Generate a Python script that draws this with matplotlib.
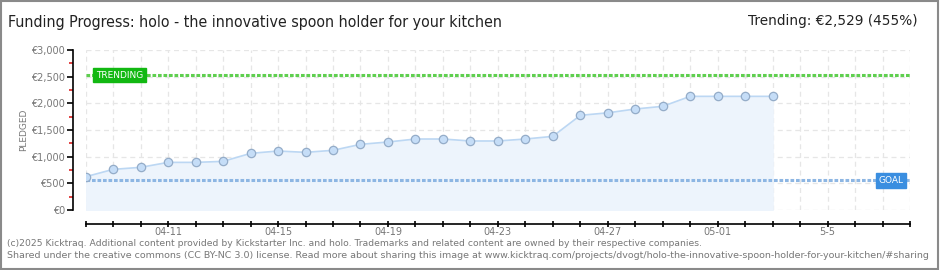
import numpy as np
import pandas as pd
import matplotlib
matplotlib.use('Agg')
from matplotlib import pyplot as plt
from matplotlib.patches import Rectangle
import matplotlib.transforms as mtransforms

# daily pledged totals (EUR)
days = pd.date_range('2025-04-08', '2025-05-03', freq='D')
pledged = [624, 762, 800, 893, 893, 912, 1062, 1106, 1081, 1119,
           1231, 1275, 1331, 1331, 1294, 1294, 1331, 1381, 1775, 1822,
           1894, 1944, 2131, 2131, 2131, 2131]
goal = 556
trending = 2529
trending_pct = 455

x_start = pd.Timestamp('2025-04-08')
x_end = pd.Timestamp('2025-05-08')
xtick_dates = pd.date_range('2025-04-11', '2025-05-05', freq='4D')
xtick_labels = ['04-11', '04-15', '04-19', '04-23', '04-27', '05-01', '5-5']
yticks = [0, 500, 1000, 1500, 2000, 2500, 3000]
ytick_labels = ['€0', '€500', '€1,000', '€1,500', '€2,000', '€2,500', '€3,000']

title = 'Funding Progress: holo - the innovative spoon holder for your kitchen'
footer1 = ('(c)2025 Kicktraq. Additional content provided by Kickstarter Inc. and holo. '
           'Trademarks and related content are owned by their respective companies.')
footer2 = ('Shared under the creative commons (CC BY-NC 3.0) license. Read more about sharing '
           'this image at www.kicktraq.com/projects/dvogt/holo-the-innovative-spoon-holder-for-your-kitchen/#sharing')

plt.rcParams['font.family'] = ['DejaVu Sans']

fig = plt.figure(figsize=(9.4, 2.7), dpi=100)
ax = fig.add_axes([85.7 / 940, 60 / 270, (910 - 85.7) / 940, 160 / 270])

# grid
ax.set_xlim(x_start, x_end)
ax.set_ylim(0, 3000)
all_days = pd.date_range(x_start, x_end, freq='D')
for d in all_days:
    ax.axvline(d, color='#e6e6e6', lw=0.9, ls=(0, (4, 3)), zorder=0)
for v in yticks:
    ax.axhline(v, color='#e6e6e6', lw=0.9, ls=(0, (4, 3)), zorder=0)

# goal & trending lines
ax.axhline(goal, color='#8db6e3', lw=2.2, ls=(0, (1.2, 0.6)), zorder=2)
ax.axhline(trending, color='#5fcf4f', lw=2.2, ls=(0, (1.2, 0.6)), zorder=2)

# pledged series
ax.fill_between(days, pledged, 0, color='#edf4fc', zorder=1)
ax.plot(days, pledged, color='#bcd7f3', lw=1.2, zorder=3)
ax.plot(days, pledged, ls='none', marker='o', ms=6, mfc='#c5ddf7',
        mec='#94acc8', mew=0.9, zorder=4)

# labels on lines
bt = mtransforms.blended_transform_factory(ax.transAxes, ax.transData)
ax.text(0.012, trending, 'TRENDING', transform=bt, color='white', fontsize=6.5,
        va='center', ha='left', zorder=5,
        bbox=dict(boxstyle='square,pad=0.3', fc='#12b812', ec='#12b812'))
ax.text(0.992, goal, 'GOAL', transform=bt, color='white', fontsize=6.5,
        va='center', ha='right', zorder=5,
        bbox=dict(boxstyle='square,pad=0.3', fc='#3a8ee0', ec='#3a8ee0'))

# axes styling
for s in ['top', 'right']:
    ax.spines[s].set_visible(False)
ax.spines['left'].set_position(('outward', 9))
ax.spines['bottom'].set_position(('outward', 10))
ax.spines['left'].set_linewidth(1.2)
ax.spines['bottom'].set_linewidth(1.2)

ax.set_yticks(yticks)
ax.set_yticklabels(ytick_labels)
ax.set_yticks([250, 750, 1250, 1750, 2250, 2750], minor=True)
ax.tick_params(axis='y', which='major', length=4, width=1.2, color='black',
               labelsize=7, labelcolor='#777777', pad=2)
ax.tick_params(axis='y', which='minor', length=3, width=1.2, color='#dd2222')

ax.set_xticks(all_days, minor=True)
ax.set_xticks(xtick_dates)
ax.set_xticklabels(xtick_labels)
ax.tick_params(axis='x', which='both', direction='inout', length=5, width=1.2,
               color='black', labelsize=7, labelcolor='#777777', pad=0)

ax.set_ylabel('PLEDGED', fontsize=6.5, color='#777777', labelpad=2)

# title and trending summary
fig.text(8 / 940, 1 - 23 / 270, title, fontsize=11.4, color='#222222',
         va='center', ha='left', fontstretch='condensed')
fig.text(918 / 940, 1 - 21 / 270, f'Trending: €{trending:,} ({trending_pct}%)',
         fontsize=9.8, color='#222222', va='center', ha='right')

# footer
fig.text(7 / 940, 1 - 243 / 270, footer1, fontsize=6.7, color='#777777', va='center', ha='left')
fig.text(7 / 940, 1 - 256 / 270, footer2, fontsize=6.8, color='#777777', va='center', ha='left')

# border
fig.patches.append(Rectangle((0.001, 0.002), 0.997, 0.995, transform=fig.transFigure,
                             fill=False, ec='#8a8a8a', lw=1.5))

fig.savefig('out.png', dpi=100)
